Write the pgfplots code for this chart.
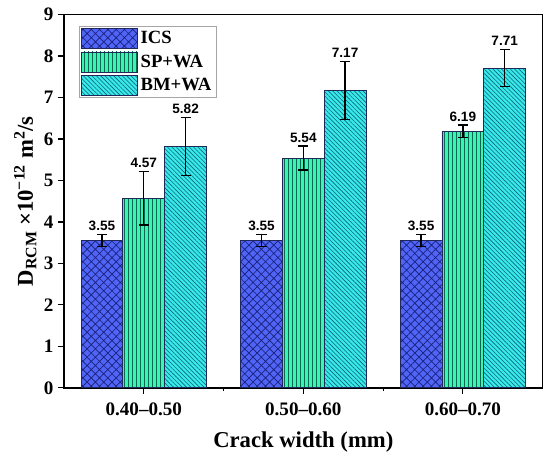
\documentclass[border=0pt]{standalone}
\usepackage{pgfplots}
\pgfplotsset{compat=1.18}
\usepackage{pgfplotstable}
\usepackage{fontspec}
\setmainfont{Liberation Serif}
\newfontfamily\arialf{Liberation Sans}
\usetikzlibrary{patterns.meta}

\definecolor{icsfill}{HTML}{5064F6}
\definecolor{icsline}{HTML}{18207A}
\definecolor{spfill}{HTML}{36F6B4}
\definecolor{spline}{HTML}{0C6650}
\definecolor{bmfill}{HTML}{38EAEA}
\definecolor{bmline}{HTML}{0A6478}
\definecolor{edge}{HTML}{20285A}

\pgfplotstableread{
x ics icserr sp sperr bm bmerr
0 3.55 0.15 4.57 0.64 5.82 0.70
1 3.55 0.15 5.54 0.29 7.17 0.70
2 3.55 0.15 6.19 0.15 7.71 0.45
}\data

\begin{document}
\begin{tikzpicture}
\begin{axis}[
  name=ax,
  scale only axis,
  width=359pt, height=280pt,
  xmin=-0.5, xmax=2.5,
  ymin=0, ymax=9,
  ybar=0pt,
  bar width=0.262,
  xtick={0,1,2},
  xticklabels={0.40--0.50,0.50--0.60,0.60--0.70},
  minor xtick={0.5,1.5},
  ytick={0,1,...,9},
  tick pos=left,
  tick align=outside,
  major tick length=4.5pt,
  minor tick length=2.5pt,
  every tick/.style={black, line width=0.9pt},
  axis line style={line width=1pt},
  /pgf/number format/assume math mode=true,
  tick label style={font=\fontsize{14.3}{16}\selectfont\bfseries},
  xticklabel style={yshift=-3pt},
  xlabel={Crack width (mm)},
  xlabel style={font=\fontsize{17}{20}\selectfont\bfseries, at={(axis description cs:0.5,0)}, anchor=center, yshift=-41pt},
  ylabel={D\textsubscript{RCM} ×10\textsuperscript{−12} m\textsuperscript{2}/s},
  ylabel style={font=\fontsize{17}{20}\selectfont\bfseries, at={(axis description cs:-0.0648,0.5)}, anchor=base},
  nodes near coords={\pgfmathprintnumber[fixed,fixed zerofill,precision=2]{\pgfplotspointmeta}},
  nodes near coords style={font=\arialf\fontsize{10.2}{12}\selectfont\bfseries, anchor=south, inner sep=1pt,
    yshift=\myerr*31.11pt+1.5pt},
  error bars/y dir=both,
  error bars/y explicit,
  error bars/error bar style={black, line width=1pt},
  error bars/error mark options={black, rotate=90, mark size=3.8pt, line width=1pt},
  legend cell align=left,
  legend style={at={(axis description cs:0.031,0.97)}, anchor=north west,
    draw=gray!70, line width=0.5pt, font=\fontsize{14}{16}\selectfont\bfseries,
    inner sep=1.5pt, row sep=2pt,
    nodes={inner sep=2pt}},
  legend image code/.code={\draw[#1] (0pt,-7.5pt) rectangle (42pt,7.5pt);},
]
\addplot[fill=icsfill, draw=edge, line width=0.6pt,
  postaction={pattern={Hatch[angle=45,distance=4.4pt,line width=0.5pt]}, pattern color=icsline},
  visualization depends on={\thisrow{icserr} \as \myerr}]
  table[x=x, y=ics, y error=icserr] {\data};
\addlegendentry{ICS}
\addplot[fill=spfill, draw=edge, line width=0.6pt,
  postaction={pattern={Lines[angle=90,distance=3pt,line width=0.7pt]}, pattern color=spline},
  visualization depends on={\thisrow{sperr} \as \myerr}]
  table[x=x, y=sp, y error=sperr] {\data};
\addlegendentry{SP+WA}
\addplot[fill=bmfill, draw=edge, line width=0.6pt,
  postaction={pattern={Lines[angle=-45,distance=2.3pt,line width=0.45pt]}, pattern color=bmline},
  visualization depends on={\thisrow{bmerr} \as \myerr}]
  table[x=x, y=bm, y error=bmerr] {\data};
\addlegendentry{BM+WA}
\end{axis}
\pgfresetboundingbox
\path[use as bounding box] ([xshift=-48pt,yshift=-54.75pt]ax.south west) rectangle ([xshift=5.5pt,yshift=10.9pt]ax.north east);
\end{tikzpicture}
\end{document}
